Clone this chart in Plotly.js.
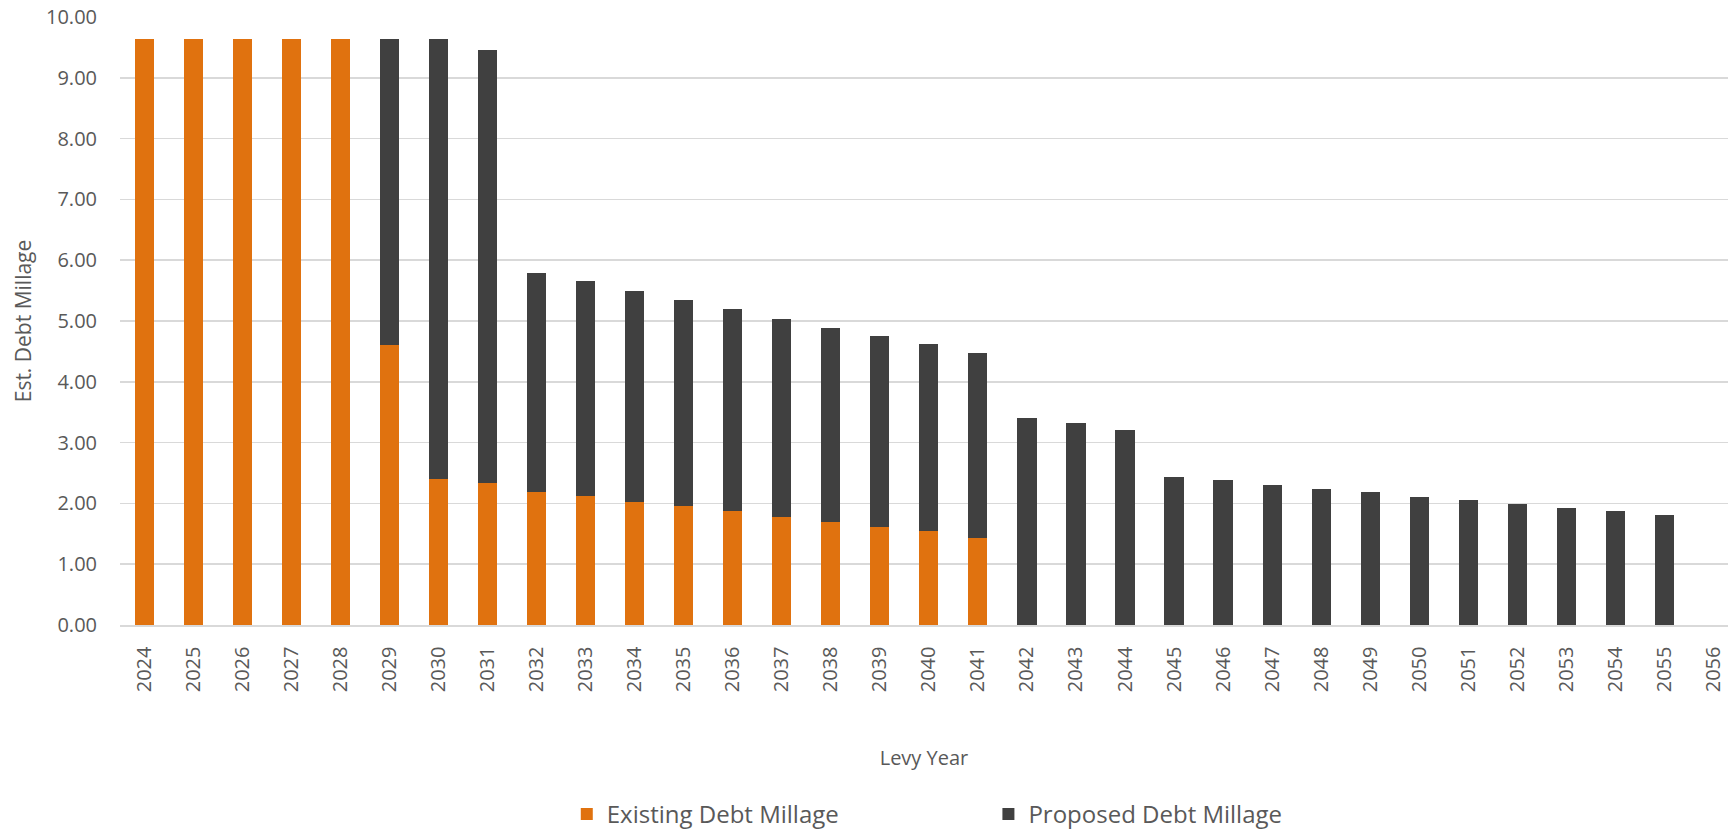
<!DOCTYPE html>
<html>
<head>
<meta charset="utf-8">
<script src="https://cdn.plot.ly/plotly-3.0.1.min.js"></script>
<style>
  html, body { margin: 0; padding: 0; background: #ffffff; }
  #chart { width: 1728px; height: 837px; }
</style>
</head>
<body>
<div id="chart"></div>
<script>
// Levy years (categories)
const levyYears = ["2024","2025","2026","2027","2028","2029","2030","2031","2032","2033","2034",
  "2035","2036","2037","2038","2039","2040","2041","2042","2043","2044","2045","2046","2047",
  "2048","2049","2050","2051","2052","2053","2054","2055","2056"];

// Existing debt millage (bottom segment)
const existingDebt = [9.64, 9.64, 9.64, 9.64, 9.64, 4.61, 2.40, 2.33, 2.18, 2.12, 2.03,
  1.95, 1.87, 1.78, 1.70, 1.62, 1.55, 1.43, null, null, null, null, null, null,
  null, null, null, null, null, null, null, null, null];

// Proposed debt millage (stacked on top)
const proposedDebt = [null, null, null, null, null, 5.03, 7.24, 7.13, 3.61, 3.53, 3.46,
  3.39, 3.32, 3.26, 3.18, 3.13, 3.07, 3.05, 3.40, 3.32, 3.21, 2.44, 2.38, 2.30,
  2.24, 2.18, 2.11, 2.05, 1.99, 1.93, 1.88, 1.81, null];

const yTickVals = [0, 1, 2, 3, 4, 5, 6, 7, 8, 9, 10];
const yTickText = ["0.00","1.00","2.00","3.00","4.00","5.00","6.00","7.00","8.00","9.00","10.00"];

const textColor = "#595959";
const fontFamily = "'Open Sans', 'Noto Sans', sans-serif";

const traces = [
  {
    type: "bar",
    name: "Existing Debt Millage",
    x: levyYears,
    y: existingDebt,
    marker: { color: "#E0720F" },
    hoverinfo: "x+y+name",
    legend: "legend"
  },
  {
    type: "bar",
    name: "Proposed Debt Millage",
    x: levyYears,
    y: proposedDebt,
    marker: { color: "#404040" },
    hoverinfo: "x+y+name",
    legend: "legend2"
  }
];

const layout = {
  width: 1728,
  height: 837,
  paper_bgcolor: "#ffffff",
  plot_bgcolor: "#ffffff",
  barmode: "stack",
  bargap: 0.61,
  margin: { l: 120, r: 0, t: 17, b: 212, pad: 0 },
  font: { family: fontFamily, color: textColor, size: 20 },
  xaxis: {
    type: "category",
    categoryorder: "array",
    categoryarray: levyYears,
    range: [-0.5, 32.3],
    tickangle: -90,
    tickfont: { size: 20, color: textColor },
    ticks: "outside",
    ticklen: 12,
    tickcolor: "rgba(0,0,0,0)",
    showgrid: false,
    showline: true,
    linecolor: "#d9d9d9",
    linewidth: 1.5,
    zeroline: false,
    automargin: false,
    title: { text: "Levy Year", font: { size: 20, color: textColor }, standoff: 59 }
  },
  yaxis: {
    range: [0, 10],
    tickmode: "array",
    tickvals: yTickVals,
    ticktext: yTickText,
    tickfont: { size: 20, color: textColor },
    ticks: "outside",
    ticklen: 18,
    tickcolor: "rgba(0,0,0,0)",
    showgrid: true,
    gridcolor: "#d9d9d9",
    gridwidth: 1.5,
    zeroline: false,
    showline: false,
    automargin: false,
    title: { text: "Est. Debt Millage", font: { size: 21, color: textColor }, standoff: 8 }
  },
  showlegend: true,
  legend: {
    orientation: "h",
    xref: "container", yref: "container",
    x: 0.328, y: -0.005,
    xanchor: "left", yanchor: "bottom",
    font: { size: 24, color: textColor },
    bgcolor: "rgba(0,0,0,0)"
  },
  legend2: {
    orientation: "h",
    xref: "container", yref: "container",
    x: 0.572, y: -0.005,
    xanchor: "left", yanchor: "bottom",
    font: { size: 24, color: textColor },
    bgcolor: "rgba(0,0,0,0)"
  }
};

Plotly.newPlot("chart", traces, layout, { displayModeBar: false, staticPlot: true });
</script>
</body>
</html>
